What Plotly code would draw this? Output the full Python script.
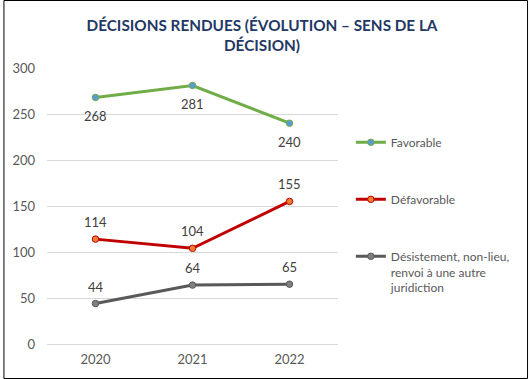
import plotly.graph_objects as go

years = ["2020", "2021", "2022"]
favorable = [268, 281, 240]
defavorable = [114, 104, 155]
desistement = [44, 64, 65]
series_names = ["Favorable", "Défavorable", "Désistement, non-lieu,<br>renvoi à une autre<br>juridiction"]
y_ticks = [0, 50, 100, 150, 200, 250, 300]

W, H = 530, 379
L, R, T, B = 44, 192, 68, 35
pw, ph = W - L - R, H - T - B

fig = go.Figure()
specs = [
    (favorable, "#70AD47", "#5B9BD5", -19),
    (defavorable, "#C00000", "#ED7D31", 17),
    (desistement, "#595959", "#7F7F7F", 17),
]
annotations = []
for i, (vals, lc, mc, shift) in enumerate(specs):
    fig.add_trace(go.Scatter(
        x=years, y=vals, name=series_names[i], legendgroup=str(i),
        mode="lines+markers",
        line=dict(color=lc, width=3),
        marker=dict(size=6.5, color=mc, line=dict(color=lc, width=1)),
        cliponaxis=False,
    ))
    for xi, yv in enumerate(vals):
        annotations.append(dict(x=xi, y=yv, xref="x", yref="y", text=str(yv),
                                showarrow=False, yshift=shift, yanchor="middle",
                                font=dict(family="Lato, Open Sans, sans-serif", size=13, color="#404040")))

fig.update_layout(
    width=W, height=H,
    margin=dict(l=L, r=R, t=T, b=B),
    paper_bgcolor="white", plot_bgcolor="white",
    title=dict(text="DÉCISIONS RENDUES (ÉVOLUTION – SENS DE LA<br>DÉCISION)",
               x=262 / W, xanchor="center", y=1 - 31 / H, yanchor="middle",
               font=dict(family="Lato, sans-serif", size=15.3, color="#1F3864", weight="bold")),
    xaxis=dict(type="category", range=[-0.5, 2.5], showgrid=False, showline=False,
               ticks="", ticklabelstandoff=6,
               tickfont=dict(family="Lato, sans-serif", size=13, color="#595959")),
    yaxis=dict(range=[0, 300], tickvals=y_ticks, showgrid=True, gridcolor="#D9D9D9",
               gridwidth=1, zeroline=True, zerolinecolor="#D9D9D9", zerolinewidth=1,
               ticks="", ticklabelstandoff=11,
               tickfont=dict(family="Lato, sans-serif", size=13, color="#595959")),
    legend=dict(x=(351 - L) / pw, xanchor="left", y=1 - (128 - T) / ph, yanchor="top",
                valign="top", tracegroupgap=38, itemwidth=30,
                font=dict(family="Lato, sans-serif", size=12, color="#595959")),
    annotations=annotations,
    shapes=[dict(type="rect", xref="paper", yref="paper",
                 x0=(-L + 0.5) / pw, x1=(pw + R - 0.5) / pw,
                 y0=(-B + 0.5) / ph, y1=(ph + T - 0.5) / ph,
                 line=dict(color="black", width=1))],
)

fig.write_html("out.html", config={"displayModeBar": False},
               post_script="document.body.style.margin='0';document.body.style.overflow='hidden';")
